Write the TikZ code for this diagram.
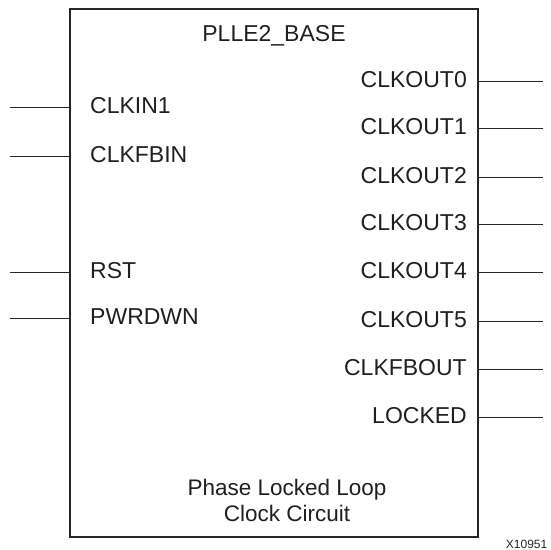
\documentclass[tikz,border=0pt]{standalone}
\usepackage{fontspec}
\setmainfont{Liberation Sans}
\begin{document}
\begin{tikzpicture}[x=1pt,y=-1pt,
  pin/.style={line width=1pt, draw=black!85},
  lbl/.style={font=\fontsize{23}{27}\selectfont, text=black!88, inner sep=0pt},
  inl/.style={lbl, anchor=west},
  outl/.style={lbl, anchor=east}]
\useasboundingbox (0,0) rectangle (550,550);
\node[draw=black!85, line width=2pt, minimum width=408pt, minimum height=528pt, inner sep=0pt] (box) at (274,273) {};
% title
\node[lbl] (title) at (274,36) {PLLE2\_BASE};
\node[lbl, align=center, font=\fontsize{22.5}{26}\selectfont] (desc) at (287,500) {Phase Locked Loop\\Clock Circuit};
% inputs
\foreach \n/\t/\y in {clkin/CLKIN1/107, clkfbin/CLKFBIN/156, rst/RST/272, pwrdwn/PWRDWN/318}{
  \coordinate (\n-p) at (70,\y);
  \coordinate (\n-e) at (10,\y);
  \node[inl] (\n) at (90,\y-1) {\t};
  \draw[pin] (\n-e) -- (\n-p);
}
% outputs
\foreach \n/\t/\y in {o0/CLKOUT0/81, o1/CLKOUT1/128, o2/CLKOUT2/177, o3/CLKOUT3/224, o4/CLKOUT4/272, o5/CLKOUT5/321, fb/CLKFBOUT/369, lk/LOCKED/417}{
  \coordinate (\n-p) at (478,\y);
  \coordinate (\n-e) at (543,\y);
  \node[outl] (\n) at (467,\y-1) {\t};
  \draw[pin] (\n-p) -- (\n-e);
}
\node[font=\fontsize{12}{14}\selectfont, text=black!85, anchor=east, inner sep=0pt] (id) at (547.5,544) {X10951};
\end{tikzpicture}
\end{document}
